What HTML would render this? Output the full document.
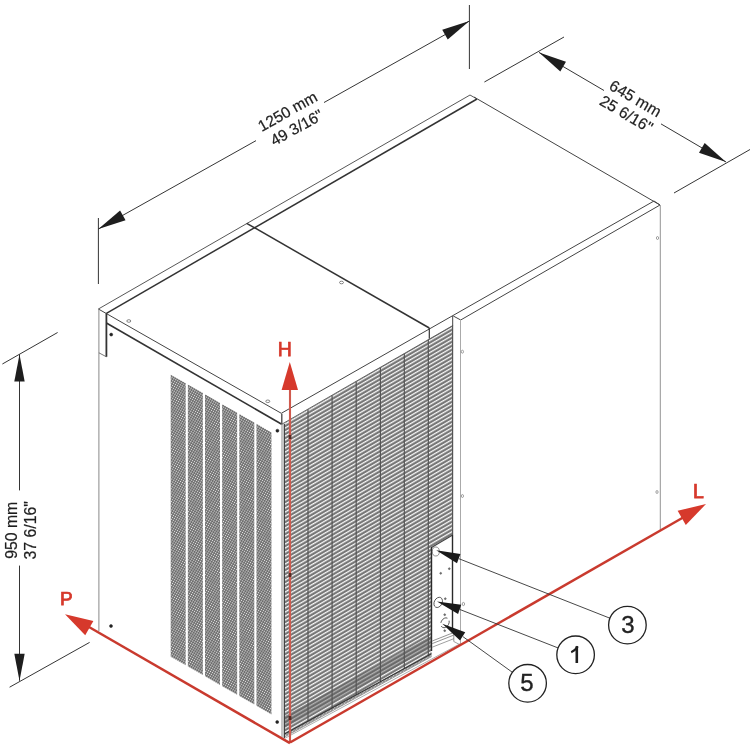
<!DOCTYPE html>
<html><head><meta charset="utf-8"><style>
html,body{margin:0;padding:0;background:#fff;}
svg{display:block;font-family:"Liberation Sans",sans-serif;will-change:transform;}
</style></head><body>
<svg width="750" height="750" viewBox="0 0 750 750">
<defs>
<pattern id="perf" width="2.2" height="2.2" patternUnits="userSpaceOnUse" patternTransform="rotate(30)">
<rect width="2.2" height="2.2" fill="#646464"/>
<circle cx="1.1" cy="1.1" r="0.66" fill="#e8e8e8"/>
</pattern>
<pattern id="louv" width="6" height="4" patternUnits="userSpaceOnUse" patternTransform="skewY(-30)">
<rect width="6" height="4" fill="#8a8a8a"/>
<rect y="0" width="6" height="1.3" fill="#fafafa"/>
<rect y="2.4" width="6" height="0.8" fill="#5e5e5e"/>
</pattern>
</defs>
<rect width="750" height="750" fill="#fff"/>
<polygon points="170.70,374.70 185.70,383.29 185.70,665.29 170.70,656.70" fill="url(#perf)" />
<polygon points="187.85,384.53 202.85,393.12 202.85,675.12 187.85,666.53" fill="url(#perf)" />
<polygon points="205.00,394.35 220.00,402.95 220.00,684.95 205.00,676.35" fill="url(#perf)" />
<polygon points="222.15,404.18 237.15,412.78 237.15,694.78 222.15,686.18" fill="url(#perf)" />
<polygon points="239.30,414.01 254.30,422.60 254.30,704.60 239.30,696.01" fill="url(#perf)" />
<polygon points="256.45,423.83 271.45,432.43 271.45,714.43 256.45,705.83" fill="url(#perf)" />
<polygon points="284.50,423.14 452.70,325.59 452.70,535.00 431.50,547.50 431.50,653.67 284.50,734.08" fill="url(#louv)" />
<polygon points="284.50,716.08 431.50,635.67 431.50,647.67 284.50,728.08" fill="#5a5a5a" opacity="0.45"/>
<polygon points="284.50,734.08 431.50,653.67 431.50,656.67 284.50,737.08" fill="url(#perf)" opacity="0.8"/>
<line x1="308.00" y1="409.51" x2="308.00" y2="721.22" stroke="#555" stroke-width="1.2"/>
<line x1="332.10" y1="395.54" x2="332.10" y2="708.04" stroke="#555" stroke-width="1.2"/>
<line x1="356.20" y1="381.56" x2="356.20" y2="694.86" stroke="#555" stroke-width="1.2"/>
<line x1="380.40" y1="367.52" x2="380.40" y2="681.62" stroke="#555" stroke-width="1.2"/>
<line x1="404.30" y1="353.66" x2="404.30" y2="668.55" stroke="#555" stroke-width="1.2"/>
<line x1="428.30" y1="339.74" x2="428.30" y2="655.42" stroke="#555" stroke-width="1.2"/>
<line x1="452.60" y1="325.65" x2="452.60" y2="535.00" stroke="#555" stroke-width="1.2"/>
<line x1="284.50" y1="734.08" x2="431.50" y2="653.67" stroke="#333" stroke-width="1.1"/>
<line x1="284.50" y1="737.08" x2="431.50" y2="656.67" stroke="#888" stroke-width="0.7"/>
<line x1="284.50" y1="738.50" x2="460.50" y2="643.50" stroke="#999" stroke-width="0.8"/>
<line x1="431.50" y1="547.50" x2="452.70" y2="535.00" stroke="#444" stroke-width="1.1"/>
<line x1="431.50" y1="547.00" x2="431.50" y2="651.00" stroke="#2a2a2a" stroke-width="1.4"/>
<line x1="452.50" y1="535.00" x2="452.50" y2="633.00" stroke="#2a2a2a" stroke-width="1.4"/>
<line x1="432.20" y1="641.00" x2="453.80" y2="632.50" stroke="#777" stroke-width="0.8"/>
<line x1="432.20" y1="643.60" x2="453.80" y2="635.10" stroke="#777" stroke-width="0.8"/>
<line x1="432.20" y1="647.20" x2="453.80" y2="638.70" stroke="#888" stroke-width="0.8"/>
<line x1="453.80" y1="632.50" x2="453.80" y2="641.50" stroke="#777" stroke-width="0.8"/>
<line x1="453.80" y1="641.50" x2="460.50" y2="645.00" stroke="#888" stroke-width="0.8"/>
<ellipse cx="435.8" cy="551.5" rx="3.5" ry="4.5" fill="none" stroke="#666" stroke-width="0.7"/>
<ellipse cx="438.2" cy="602.4" rx="3.9" ry="5.4" transform="rotate(28 438.2 602.4)" fill="none" stroke="#444" stroke-width="0.8"/>
<ellipse cx="445" cy="622.8" rx="3.9" ry="5.2" transform="rotate(28 445 622.8)" fill="none" stroke="#444" stroke-width="0.8" stroke-dasharray="9 3"/>
<ellipse cx="463.4" cy="604" rx="1.2" ry="1.6" fill="none" stroke="#666" stroke-width="0.6"/>
<circle cx="440.70" cy="573.30" r="0.9" stroke="#555" stroke-width="0.6" fill="#777"/>
<circle cx="449.30" cy="568.70" r="0.9" stroke="#555" stroke-width="0.6" fill="#777"/>
<circle cx="445.30" cy="598.70" r="0.9" stroke="#555" stroke-width="0.6" fill="#777"/>
<circle cx="444.70" cy="614.70" r="0.9" stroke="#555" stroke-width="0.6" fill="#777"/>
<circle cx="444.70" cy="630.70" r="0.9" stroke="#555" stroke-width="0.6" fill="#777"/>
<line x1="98.40" y1="309.00" x2="470.00" y2="95.00" stroke="#444" stroke-width="0.9"/>
<line x1="106.40" y1="313.40" x2="477.00" y2="99.00" stroke="#333" stroke-width="1.5"/>
<line x1="470.00" y1="95.00" x2="477.00" y2="99.00" stroke="#444" stroke-width="0.9"/>
<line x1="474.00" y1="97.00" x2="660.00" y2="205.00" stroke="#444" stroke-width="1.0"/>
<line x1="246.70" y1="223.30" x2="429.30" y2="328.00" stroke="#333" stroke-width="1.5"/>
<line x1="98.40" y1="309.00" x2="281.30" y2="413.30" stroke="#444" stroke-width="1.0"/>
<line x1="106.40" y1="323.00" x2="281.30" y2="424.00" stroke="#333" stroke-width="1.6"/>
<line x1="281.80" y1="413.80" x2="281.80" y2="424.50" stroke="#444" stroke-width="1.3"/>
<line x1="281.30" y1="413.30" x2="654.00" y2="201.00" stroke="#444" stroke-width="1.0"/>
<line x1="429.30" y1="328.00" x2="429.30" y2="338.70" stroke="#333" stroke-width="1.2"/>
<line x1="281.30" y1="424.50" x2="452.70" y2="325.60" stroke="#555" stroke-width="0.9"/>
<line x1="452.70" y1="316.00" x2="452.70" y2="326.00" stroke="#444" stroke-width="1.0"/>
<line x1="453.30" y1="316.00" x2="460.70" y2="320.00" stroke="#444" stroke-width="1.0"/>
<line x1="460.70" y1="320.00" x2="660.00" y2="205.00" stroke="#444" stroke-width="1.0"/>
<line x1="654.00" y1="201.00" x2="660.00" y2="205.00" stroke="#444" stroke-width="1.0"/>
<line x1="660.30" y1="205.00" x2="660.30" y2="530.00" stroke="#888" stroke-width="0.9"/>
<line x1="460.50" y1="320.00" x2="460.50" y2="646.00" stroke="#aaa" stroke-width="1.0"/>
<line x1="98.90" y1="309.00" x2="98.90" y2="631.00" stroke="#7a7a7a" stroke-width="0.9"/>
<line x1="106.40" y1="313.40" x2="106.40" y2="356.80" stroke="#333" stroke-width="1.8"/>
<line x1="98.90" y1="352.80" x2="106.40" y2="356.80" stroke="#555" stroke-width="0.8"/>
<line x1="282.00" y1="424.00" x2="282.00" y2="737.50" stroke="#8a8a8a" stroke-width="1.0"/>
<line x1="284.30" y1="424.00" x2="284.30" y2="738.00" stroke="#333" stroke-width="1.2"/>
<circle cx="111.20" cy="334.60" r="1.5" stroke="#222" stroke-width="0.5" fill="#222"/>
<circle cx="277.40" cy="430.70" r="1.5" stroke="#222" stroke-width="0.5" fill="#222"/>
<circle cx="111.00" cy="626.00" r="1.5" stroke="#222" stroke-width="0.5" fill="#222"/>
<circle cx="277.20" cy="722.00" r="1.5" stroke="#222" stroke-width="0.5" fill="#222"/>
<ellipse cx="128.8" cy="321" rx="2" ry="1.3" fill="none" stroke="#555" stroke-width="0.7"/>
<ellipse cx="267.8" cy="401.3" rx="2" ry="1.3" fill="none" stroke="#555" stroke-width="0.7"/>
<ellipse cx="341.5" cy="282.5" rx="2" ry="1.3" fill="none" stroke="#555" stroke-width="0.7"/>
<ellipse cx="462.4" cy="351.7" rx="1.1" ry="1.5" fill="none" stroke="#666" stroke-width="0.6"/>
<ellipse cx="462.4" cy="496" rx="1.1" ry="1.5" fill="none" stroke="#666" stroke-width="0.6"/>
<ellipse cx="657.5" cy="238" rx="1.1" ry="1.5" fill="none" stroke="#666" stroke-width="0.6"/>
<ellipse cx="657" cy="492" rx="1.1" ry="1.5" fill="none" stroke="#666" stroke-width="0.6"/>
<line x1="98.40" y1="218.00" x2="98.40" y2="284.00" stroke="#1e1e1e" stroke-width="0.9"/>
<line x1="469.40" y1="5.00" x2="469.40" y2="69.00" stroke="#1e1e1e" stroke-width="0.9"/>
<line x1="98.40" y1="229.00" x2="256.00" y2="140.64" stroke="#1e1e1e" stroke-width="0.9"/>
<line x1="324.00" y1="102.52" x2="469.40" y2="21.00" stroke="#1e1e1e" stroke-width="0.9"/>
<polygon points="98.40,229.00 125.56,220.19 120.08,210.42" fill="#1e1e1e" />
<polygon points="469.40,21.00 442.24,29.81 447.72,39.58" fill="#1e1e1e" />
<g transform="translate(292.00,119.30) rotate(-29.28)">
<text x="0" y="-3.72" text-anchor="middle" font-size="15.6" font-weight="normal" fill="#1e1e1e" stroke="#1e1e1e" stroke-width="0.22">1250 mm</text>
<text x="0" y="14.88" text-anchor="middle" font-size="15.6" font-weight="normal" fill="#1e1e1e" stroke="#1e1e1e" stroke-width="0.22">49 3/16"</text>
</g>
<line x1="484.40" y1="82.00" x2="564.00" y2="37.00" stroke="#1e1e1e" stroke-width="0.9"/>
<line x1="674.00" y1="193.00" x2="750.00" y2="149.50" stroke="#1e1e1e" stroke-width="0.9"/>
<line x1="539.00" y1="52.40" x2="604.00" y2="90.50" stroke="#1e1e1e" stroke-width="0.9"/>
<line x1="661.00" y1="123.90" x2="726.00" y2="162.00" stroke="#1e1e1e" stroke-width="0.9"/>
<polygon points="539.00,52.40 560.33,71.39 565.99,61.73" fill="#1e1e1e" />
<polygon points="726.00,162.00 704.67,143.01 699.01,152.67" fill="#1e1e1e" />
<g transform="translate(631.00,106.00) rotate(30.37)">
<text x="0" y="-3.34" text-anchor="middle" font-size="15.8" font-weight="normal" fill="#1e1e1e" stroke="#1e1e1e" stroke-width="0.22">645 mm</text>
<text x="0" y="14.66" text-anchor="middle" font-size="15.8" font-weight="normal" fill="#1e1e1e" stroke="#1e1e1e" stroke-width="0.22">25 6/16"</text>
</g>
<line x1="2.40" y1="364.00" x2="57.60" y2="332.50" stroke="#1e1e1e" stroke-width="0.9"/>
<line x1="9.60" y1="687.20" x2="89.60" y2="642.40" stroke="#1e1e1e" stroke-width="0.9"/>
<line x1="19.50" y1="354.40" x2="19.50" y2="490.40" stroke="#1e1e1e" stroke-width="0.9"/>
<line x1="19.50" y1="565.60" x2="19.50" y2="680.80" stroke="#1e1e1e" stroke-width="0.9"/>
<polygon points="19.50,354.40 14.30,381.40 24.70,381.40" fill="#1e1e1e" />
<polygon points="19.50,680.80 24.70,653.80 14.30,653.80" fill="#1e1e1e" />
<g transform="translate(20.40,530.30) rotate(-90.00)">
<text x="0" y="-3.84" text-anchor="middle" font-size="15.8" font-weight="normal" fill="#1e1e1e" stroke="#1e1e1e" stroke-width="0.22">950 mm</text>
<text x="0" y="15.16" text-anchor="middle" font-size="15.8" font-weight="normal" fill="#1e1e1e" stroke="#1e1e1e" stroke-width="0.22">37 6/16"</text>
</g>
<line x1="290.00" y1="742.50" x2="290.00" y2="388.00" stroke="#d05a4e" stroke-width="2.1"/>
<polygon points="289.80,362.00 281.60,390.00 298.00,390.00" fill="#d6392c" />
<line x1="290.00" y1="743.20" x2="89.00" y2="627.00" stroke="#c93a2e" stroke-width="2.5"/>
<polygon points="65.00,614.30 85.22,635.33 93.37,621.10" fill="#d6392c" />
<line x1="290.00" y1="742.50" x2="684.00" y2="517.00" stroke="#c93a2e" stroke-width="2.5"/>
<polygon points="706.00,504.00 677.63,510.81 685.79,525.04" fill="#d6392c" />
<g transform="translate(284.70,349.00) rotate(0.00)">
<text x="0" y="6.98" text-anchor="middle" font-size="19.5" font-weight="normal" fill="#d6392c" stroke="#d6392c" stroke-width="0.75">H</text>
</g>
<rect x="288.6" y="435" width="2.8" height="4" fill="#5a2a22"/>
<rect x="288.6" y="573" width="2.8" height="4" fill="#5a2a22"/>
<rect x="288.6" y="716" width="2.8" height="4" fill="#5a2a22"/>
<g transform="translate(66.30,598.50) rotate(0.00)">
<text x="0" y="6.80" text-anchor="middle" font-size="19" font-weight="normal" fill="#d6392c" stroke="#d6392c" stroke-width="0.75">P</text>
</g>
<g transform="translate(698.50,491.00) rotate(0.00)">
<text x="0" y="6.98" text-anchor="middle" font-size="19.5" font-weight="normal" fill="#d6392c" stroke="#d6392c" stroke-width="0.75">L</text>
</g>
<polygon points="436.20,550.30 457.01,563.22 460.41,554.03" fill="#1a1a1a" />
<line x1="458.90" y1="558.70" x2="610.10" y2="618.28" stroke="#333" stroke-width="0.9"/>
<circle cx="627.40" cy="625.10" r="18.8" stroke="#222" stroke-width="1.3" fill="#fff"/>
<g transform="translate(627.90,624.50) rotate(0.00)">
<text x="0" y="8.59" text-anchor="middle" font-size="24" font-weight="normal" fill="#222" stroke="#222" stroke-width="0.35">3</text>
</g>
<polygon points="437.00,601.60 458.10,614.04 461.29,604.77" fill="#1a1a1a" />
<line x1="459.40" y1="609.30" x2="558.28" y2="648.02" stroke="#333" stroke-width="0.9"/>
<circle cx="575.60" cy="654.80" r="18.8" stroke="#222" stroke-width="1.3" fill="#fff"/>
<path d="M576.80,646.20 L576.80,663.00" stroke="#1e1e1e" stroke-width="2.6" fill="none"/>
<path d="M577.80,646.40 Q575.10,650.60 571.20,652.20" stroke="#1e1e1e" stroke-width="2.1" fill="none"/>
<polygon points="442.30,623.70 460.02,640.61 465.23,632.31" fill="#1a1a1a" />
<line x1="463.00" y1="636.70" x2="512.52" y2="672.42" stroke="#333" stroke-width="0.9"/>
<circle cx="527.60" cy="683.30" r="18.8" stroke="#222" stroke-width="1.3" fill="#fff"/>
<g transform="translate(527.00,682.70) rotate(0.00)">
<text x="0" y="8.59" text-anchor="middle" font-size="24" font-weight="normal" fill="#222" stroke="#222" stroke-width="0.35">5</text>
</g>
</svg>
</body></html>
